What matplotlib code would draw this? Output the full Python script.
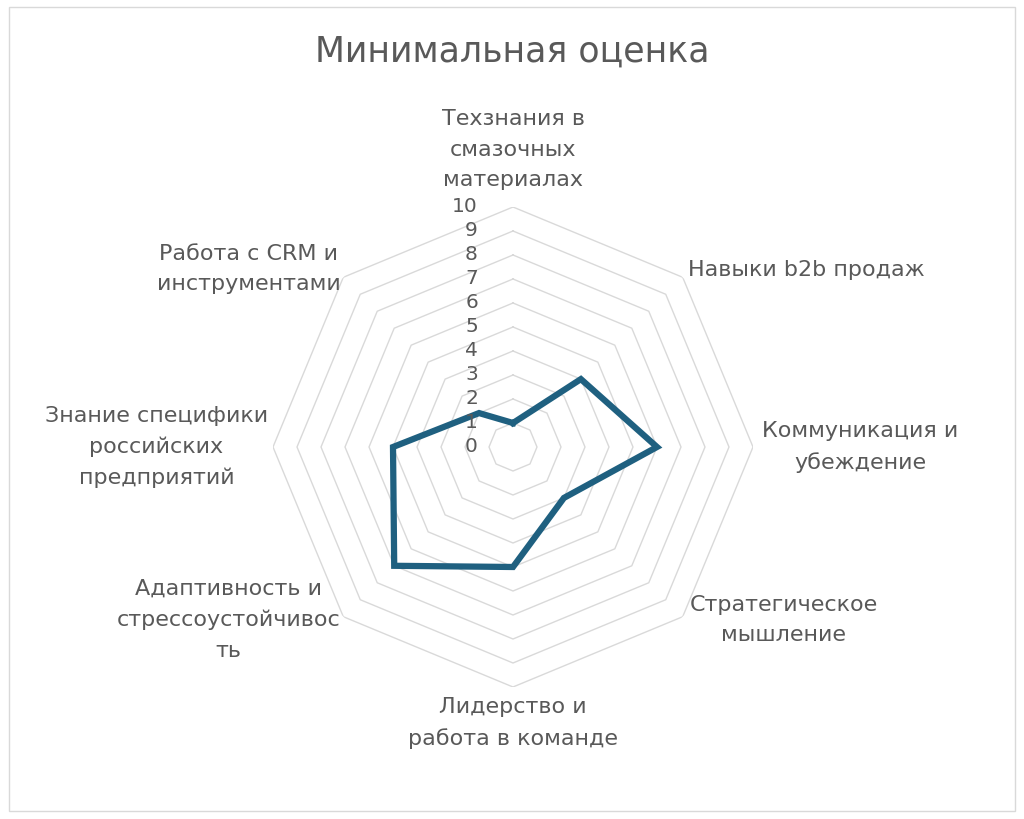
import numpy as np
import matplotlib
matplotlib.use("Agg")
import matplotlib.pyplot as plt
from matplotlib.patches import Rectangle

categories = [
    "Техзнания в\nсмазочных\nматериалах",
    "Навыки b2b продаж",
    "Коммуникация и\nубеждение",
    "Стратегическое\nмышление",
    "Лидерство и\nработа в команде",
    "Адаптивность и\nстрессоустойчивос\nть",
    "Знание специфики\nроссийских\nпредприятий",
    "Работа с CRM и\nинструментами",
]
values = [1, 4, 6, 3, 5, 7, 5, 2]
ticks = list(range(0, 11))
title = "Минимальная оценка"

plt.rcParams['font.family'] = ['DejaVu Sans']
TXT = "#595959"
GRID = "#D9D9D9"
LINE = "#1F6080"

W, H = 1024, 819
fig = plt.figure(figsize=(W / 100, H / 100), dpi=100)
fig.patch.set_facecolor("white")

cx, cy, R = 513, 447, 240
ax = fig.add_axes([(cx - R) / W, (H - cy - R) / H, 2 * R / W, 2 * R / H], polar=True)
ax.set_theta_zero_location("N")
ax.set_theta_direction(-1)
ax.set_ylim(0, 10)
ax.grid(False)
ax.spines['polar'].set_visible(False)
ax.set_xticks([])
ax.set_yticks([])
ax.patch.set_alpha(0)

n = len(categories)
angles = np.linspace(0, 2 * np.pi, n, endpoint=False)
ang_closed = np.concatenate([angles, angles[:1]])

for r in ticks[1:]:
    ax.plot(ang_closed, [r] * (n + 1), color=GRID, lw=1.0, zorder=1)

vals_closed = values + values[:1]
ax.plot(ang_closed, vals_closed, color=LINE, lw=4.5, zorder=3, solid_joinstyle='miter')

for t in ticks:
    ax.annotate(str(t), xy=(0, t), xytext=(-35, 0), textcoords='offset pixels',
                ha='right', va='center', fontsize=14.5, color=TXT, zorder=4)

# label placement: (dx, dy, ha, va)
place = [
    (0, 17, 'center', 'bottom'),
    (5, 7, 'left', 'center'),
    (9, 0, 'left', 'center'),
    (7, -3, 'left', 'center'),
    (0, -10, 'center', 'top'),
    (-3, -3, 'right', 'center'),
    (-5, 0, 'right', 'center'),
    (-3, 8, 'right', 'center'),
]
for a, lab, (dx, dy, ha, va) in zip(angles, categories, place):
    ax.annotate(lab, xy=(a, 10), xytext=(dx, dy), textcoords='offset pixels',
                ha=ha, va=va, multialignment='center', fontsize=16, color=TXT,
                linespacing=1.65, annotation_clip=False)

fig.text(0.5, 1 - 52 / H, title, ha='center', va='center', fontsize=25, color=TXT)

fig.patches.append(Rectangle((9 / W, 1 - 811 / H), (1015 - 9) / W, (811 - 7) / H,
                             transform=fig.transFigure, fill=False, edgecolor=GRID, lw=1.0))

fig.savefig("out.png", dpi=100)
